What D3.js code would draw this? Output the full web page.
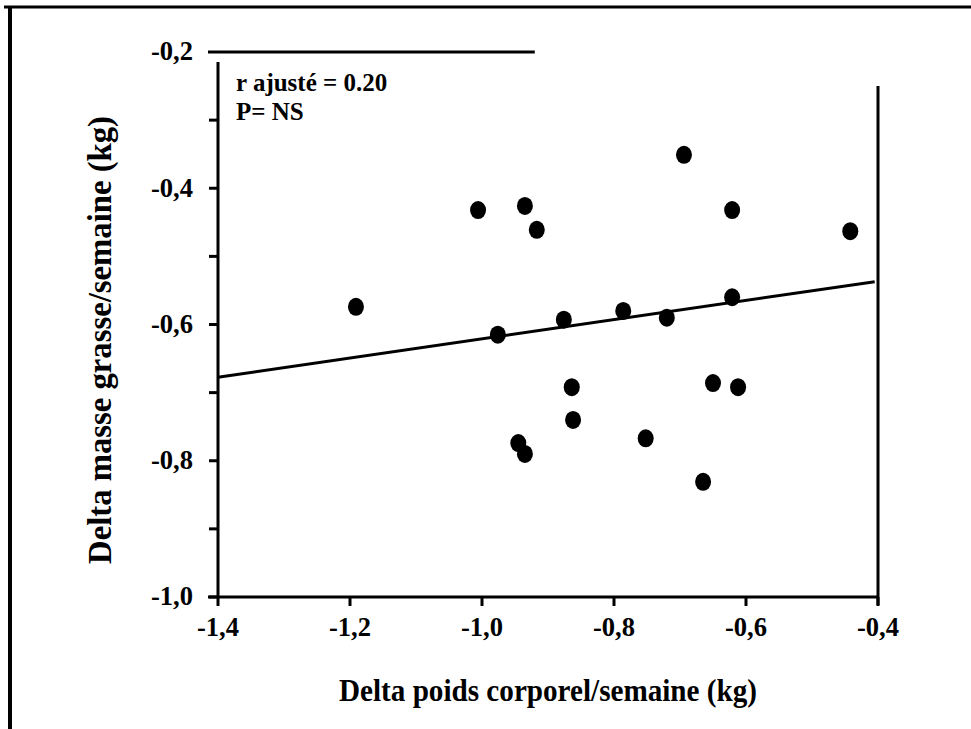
<!DOCTYPE html>
<html>
<head>
<meta charset="utf-8">
<script src="https://cdn.jsdelivr.net/npm/d3@7"></script>
<style>
  body { margin: 0; background: #fff; }
  text { font-family: "Liberation Serif", "Times New Roman", serif; font-weight: bold; fill: #000; }
</style>
</head>
<body>
<script>
// data
var deltaPoids = [-1.191, -1.006, -0.935, -0.917, -0.976, -0.876, -0.786, -0.720, -0.621, -0.694,
                  -0.621, -0.442, -0.864, -0.862, -0.945, -0.935, -0.752, -0.650, -0.612, -0.665];
var deltaMasse = [-0.574, -0.432, -0.426, -0.461, -0.615, -0.593, -0.580, -0.590, -0.560, -0.351,
                  -0.432, -0.463, -0.692, -0.740, -0.774, -0.790, -0.767, -0.686, -0.692, -0.831];
var xTicks = [-1.4, -1.2, -1.0, -0.8, -0.6, -0.4];
var yTicks = [-1.0, -0.9, -0.8, -0.7, -0.6, -0.5, -0.4, -0.3];
var yLabels = [-1.0, -0.8, -0.6, -0.4, -0.2];
var fit = {intercept: -0.48, slope: 0.141};
var note = ["r ajusté = 0.20", "P= NS"];

var width = 971, height = 729;

var fr = d3.formatLocale({decimal: ",", thousands: " ", grouping: [3], currency: ["", ""], minus: "-"});
var fmt = fr.format(".1f");

var x = d3.scaleLinear().domain([-1.4, -0.4]).range([218, 878]);
var y = d3.scaleLinear().domain([-1.0, -0.2]).range([597, 52]);

var svg = d3.select("body").append("svg")
    .attr("width", width)
    .attr("height", height);

svg.append("rect").attr("width", width).attr("height", height).attr("fill", "#fff");

// scanned frame (top + left only)
svg.append("line").attr("x1", 4).attr("x2", width).attr("y1", 7).attr("y2", 7)
    .attr("stroke", "#000").attr("stroke-width", 3);
svg.append("line").attr("x1", 10).attr("x2", 10).attr("y1", 6).attr("y2", height)
    .attr("stroke", "#000").attr("stroke-width", 4);

// axes lines
var axes = svg.append("g").attr("stroke", "#000").attr("stroke-width", 3).attr("fill", "none");
axes.append("line").attr("x1", x(-1.4) - 10).attr("x2", x(-0.4)).attr("y1", y(-1.0)).attr("y2", y(-1.0));
axes.append("line").attr("x1", x(-1.4)).attr("x2", x(-1.4)).attr("y1", y(-0.2) + 10).attr("y2", y(-1.0));
axes.append("line").attr("x1", x(-1.4) - 10).attr("x2", x(-0.92)).attr("y1", y(-0.2)).attr("y2", y(-0.2));
axes.append("line").attr("x1", x(-0.4)).attr("x2", x(-0.4)).attr("y1", y(-0.25)).attr("y2", y(-1.0) + 8);

// x ticks
var xa = svg.append("g");
xa.selectAll("line").data(xTicks).enter().append("line")
    .attr("x1", function(d) { return x(d); }).attr("x2", function(d) { return x(d); })
    .attr("y1", y(-1.0)).attr("y2", y(-1.0) + 9)
    .attr("stroke", "#000").attr("stroke-width", 3);
xa.selectAll("text").data(xTicks).enter().append("text")
    .attr("x", function(d) { return x(d); })
    .attr("y", 636)
    .attr("text-anchor", "middle")
    .attr("textLength", 42).attr("lengthAdjust", "spacingAndGlyphs")
    .style("font-size", "28px")
    .text(function(d) { return fmt(d); });

// y ticks
var ya = svg.append("g");
ya.selectAll("line").data(yTicks).enter().append("line")
    .attr("x1", x(-1.4) - 9).attr("x2", x(-1.4))
    .attr("y1", function(d) { return y(d); }).attr("y2", function(d) { return y(d); })
    .attr("stroke", "#000").attr("stroke-width", 3);
ya.selectAll("text").data(yLabels).enter().append("text")
    .attr("x", 193)
    .attr("y", function(d) { return y(d); })
    .attr("dy", "0.3em")
    .attr("text-anchor", "end")
    .attr("textLength", 42).attr("lengthAdjust", "spacingAndGlyphs")
    .style("font-size", "28px")
    .text(function(d) { return fmt(d); });

// regression line
svg.append("line")
    .attr("x1", x(-1.4)).attr("y1", y(fit.intercept + fit.slope * -1.4))
    .attr("x2", x(-0.405)).attr("y2", y(fit.intercept + fit.slope * -0.405))
    .attr("stroke", "#000").attr("stroke-width", 3);

// points
svg.append("g").selectAll("ellipse")
    .data(d3.range(deltaPoids.length))
    .enter().append("ellipse")
    .attr("cx", function(i) { return x(deltaPoids[i]); })
    .attr("cy", function(i) { return y(deltaMasse[i]); })
    .attr("rx", 8).attr("ry", 9)
    .attr("fill", "#000");

// note
svg.append("g").selectAll("text").data(note).enter().append("text")
    .attr("x", 236)
    .attr("y", function(d, i) { return 91 + i * 29; })
    .style("font-size", "25px")
    .text(function(d) { return d; });

// axis titles
svg.append("text")
    .attr("x", 548).attr("y", 701)
    .attr("text-anchor", "middle")
    .attr("textLength", 418).attr("lengthAdjust", "spacingAndGlyphs")
    .style("font-size", "32px")
    .text("Delta poids corporel/semaine (kg)");

svg.append("text")
    .attr("transform", "translate(111,340) rotate(-90)")
    .attr("text-anchor", "middle")
    .attr("textLength", 448).attr("lengthAdjust", "spacingAndGlyphs")
    .style("font-size", "34px")
    .text("Delta masse grasse/semaine (kg)");
</script>
</body>
</html>
